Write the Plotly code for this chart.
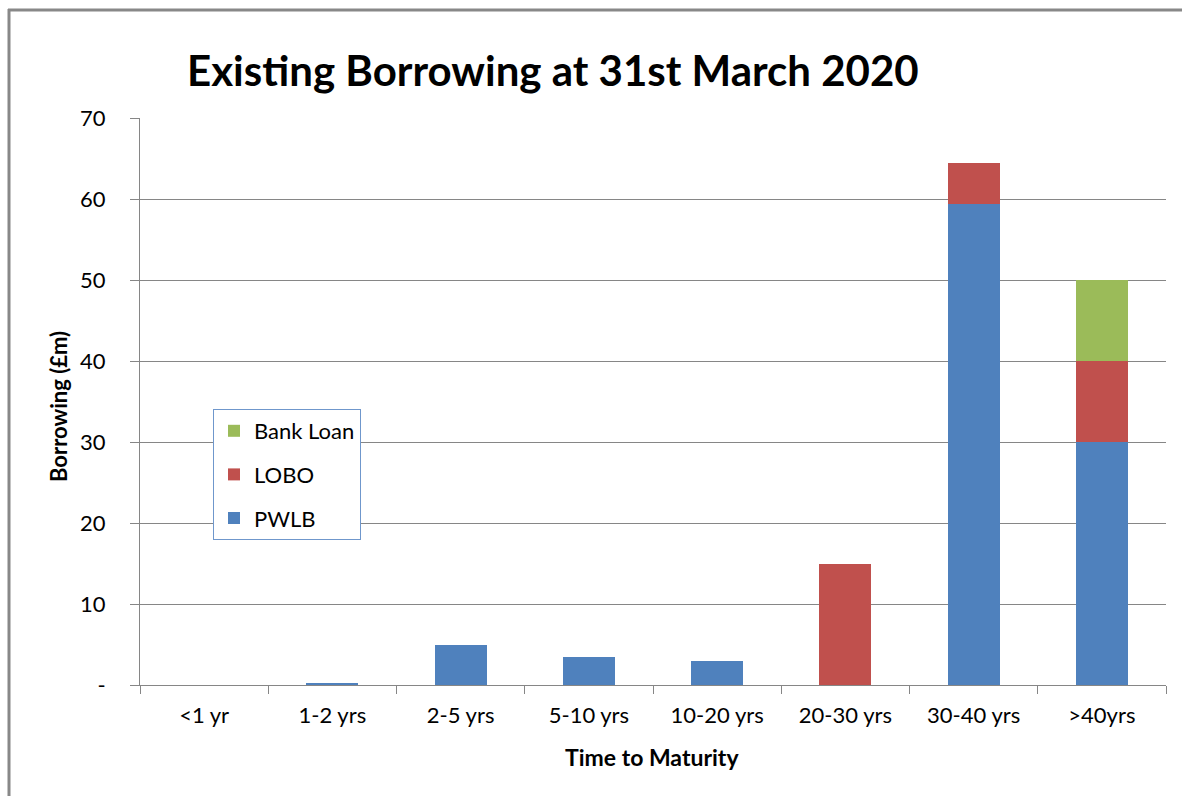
import plotly.graph_objects as go

categories = ["<1 yr", "1-2 yrs", "2-5 yrs", "5-10 yrs", "10-20 yrs", "20-30 yrs", "30-40 yrs", ">40yrs"]
pwlb = [0, 0.3, 5.0, 3.5, 3.0, 0, 59.4, 30.0]
lobo = [0, 0, 0, 0, 0, 15.0, 5.0, 10.0]
bank_loan = [0, 0, 0, 0, 0, 0, 0, 10.0]
y_tickvals = [0, 10, 20, 30, 40, 50, 60, 70]
y_ticktext = ["-", "10", "20", "30", "40", "50", "60", "70"]

FONT = "Lato, 'Liberation Sans Narrow', 'Liberation Sans', sans-serif"
GRAY = "#868686"

W, H = 1182, 796
L, R, T, B = 140, 16, 118, 111
pw, ph = W - L - R, H - T - B

def px(x):
    return (x - L) / pw

def py(y):
    return (H - B - y) / ph

fig = go.Figure()
fig.add_trace(go.Bar(x=categories, y=pwlb, name="PWLB", marker=dict(color="#4F81BD", line=dict(width=0)),
                     legendgroup="pwlb", legendrank=3))
fig.add_trace(go.Bar(x=categories, y=lobo, name="LOBO", marker=dict(color="#C0504D", line=dict(width=0)),
                     legendgroup="lobo", legendrank=2))
fig.add_trace(go.Bar(x=categories, y=bank_loan, name="Bank Loan", marker=dict(color="#9BBB59", line=dict(width=0)),
                     legendgroup="bank", legendrank=1))

fig.update_layout(
    width=W, height=H,
    barmode="stack", bargap=0.595,
    paper_bgcolor="white", plot_bgcolor="white",
    margin=dict(l=L, r=R, t=T, b=B, pad=0),
    font=dict(family=FONT, size=22, color="#000000"),
    legend=dict(
        x=px(213), y=py(409), xanchor="left", yanchor="top",
        traceorder="grouped", tracegroupgap=12,
        bordercolor="#6F97CC", borderwidth=1, bgcolor="white",
        font=dict(size=22, family=FONT, color="#000000"),
    ),
    xaxis=dict(
        showline=True, linecolor=GRAY, linewidth=1,
        ticks="outside", tickson="boundaries", ticklen=8, tickcolor=GRAY,
        showgrid=False, ticklabelstandoff=11,
        tickfont=dict(size=22),
    ),
    yaxis=dict(
        range=[0, 70], tickvals=y_tickvals, ticktext=y_ticktext,
        showline=True, linecolor=GRAY, linewidth=1,
        ticks="outside", ticklen=9, tickcolor=GRAY,
        showgrid=True, gridcolor=GRAY, gridwidth=1, zeroline=False,
        ticklabelstandoff=20, tickfont=dict(size=22),
    ),
    shapes=[
        dict(type="line", xref="paper", yref="paper", x0=px(9), x1=px(9), y0=py(9), y1=py(H + 5),
             line=dict(color="#888888", width=3)),
        dict(type="line", xref="paper", yref="paper", x0=px(8), x1=px(W + 5), y0=py(10), y1=py(10),
             line=dict(color="#888888", width=3)),
    ],
    annotations=[
        dict(text="<b>Existing Borrowing at 31st March 2020</b>", xref="paper", yref="paper",
             x=px(553), y=py(70), xanchor="center", yanchor="middle", showarrow=False,
             font=dict(size=42, family=FONT, color="#000000")),
        dict(text="<b>Borrowing (£m)</b>", xref="paper", yref="paper", textangle=-90,
             x=px(58), y=py(407), xanchor="center", yanchor="middle", showarrow=False,
             font=dict(size=22, family=FONT, color="#000000")),
        dict(text="<b>Time to Maturity</b>", xref="paper", yref="paper",
             x=px(652), y=py(757), xanchor="center", yanchor="middle", showarrow=False,
             font=dict(size=23, family=FONT, color="#000000")),
    ],
)

fig.write_html("out.html")
